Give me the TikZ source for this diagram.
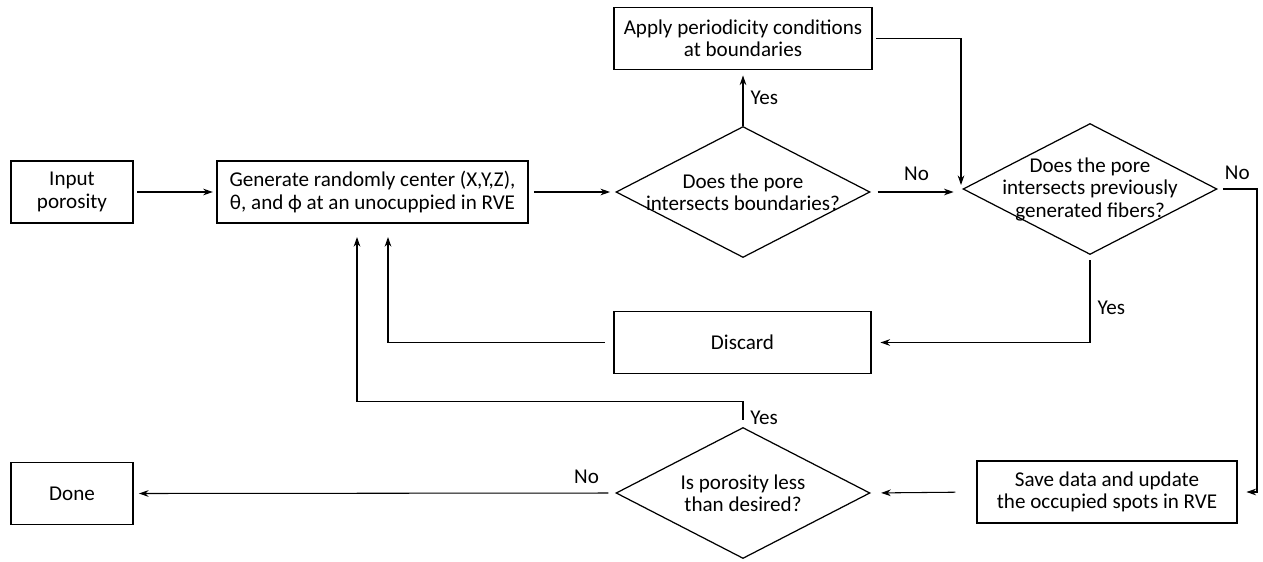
\documentclass[tikz,border=0pt]{standalone}
\usepackage{fontspec}
\setmainfont{Carlito}
\usepackage{tikz}
\usetikzlibrary{shapes.geometric, positioning, arrows.meta}

\begin{document}
\begin{tikzpicture}[
    x=0.02cm, y=-0.02cm,
    process/.style={
        rectangle,
        minimum width=#1,
        minimum height=1.24cm,
        align=center,
        draw=black,
        line width=0.8pt,
        inner sep=2pt,
        font=\fontsize{12}{12.8}\selectfont
    },
    decision/.style={
        diamond,
        aspect=1.95,
        minimum width=5.08cm,
        minimum height=2.62cm,
        inner sep=-6pt,
        align=center,
        draw=black,
        line width=0.7pt,
        font=\fontsize{12}{12.8}\selectfont
    },
    answer/.style={font=\fontsize{12}{12.8}\selectfont, inner sep=1pt},
    arrow/.style={line width=0.6pt,-{Stealth[length=5.5pt,width=3.8pt]}}
]
\useasboundingbox (0,0) rectangle (1263,561);

% Nodes
\node (input) [process=2.44cm] at (72,192) {Input\\porosity};
\node (gen) [process=6.22cm] at (372.5,192) {Generate randomly center (X,Y,Z),\\θ, and ϕ at an unocuppied in RVE};
\node (bound) [decision] at (743,192) {Does the pore\\intersects boundaries?};
\node (apply) [process=5.16cm] at (743,38.5) {Apply periodicity conditions\\at boundaries};
\node (fiber) [decision] at (1090,189) {Does the pore\\intersects previously\\generated fibers?};
\node (discard) [process=5.14cm] at (742.5,342.5) {Discard};
\node (save) [process=5.2cm] at (1107,492) {Save data and update\\the occupied spots in RVE};
\node (less) [decision] at (743,493) {Is porosity less\\than desired?};
\node (done) [process=2.44cm] at (72,493.5) {Done};

% Helper points
\coordinate (inA) at (388,223);
\coordinate (inB) at (357,223);
\coordinate (inF) at (961,185);
\coordinate (turn) at (1257,189);

% Arrows
\draw [arrow, shorten <=2pt, shorten >=2pt] (input) -- (gen);
\draw [arrow, shorten <=3pt, shorten >=3pt] (gen) -- (bound);
\draw [arrow, shorten >=3pt] (bound.north) -- node[answer, right=3pt] {Yes} (apply.south);
\draw [arrow, shorten <=4pt, shorten >=5pt] (bound.east) -- node[answer, above=5pt] {No} (bound.east -| fiber.west);
\draw [arrow, shorten <=2pt] (apply.east) -| (inF);
\draw [arrow, shorten <=3pt, shorten >=5pt] (fiber.east) -- node[answer, above=4pt, pos=0.5] {No} (turn) |- (save.east);
\draw [arrow, shorten <=3pt, shorten >=5pt] (fiber.south) |- node[answer, right=3pt, pos=0.3] {Yes} (discard.east);
\draw [arrow, shorten <=5pt, shorten >=8pt] (discard.west) -| (inA);
\draw [arrow, shorten <=4pt, shorten >=8pt] (less.north) -- ++(0,-25) -| (inB);
\node [answer, anchor=south west] at ([xshift=3pt]less.north) {Yes};
\draw [arrow, shorten <=12pt, shorten >=6pt] (save.west) -- (less.east);
\draw [arrow, shorten <=4pt, shorten >=3pt] (less.west) -- node[answer, above=4pt, pos=0.06] {No} (done.east);

\end{tikzpicture}
\end{document}
